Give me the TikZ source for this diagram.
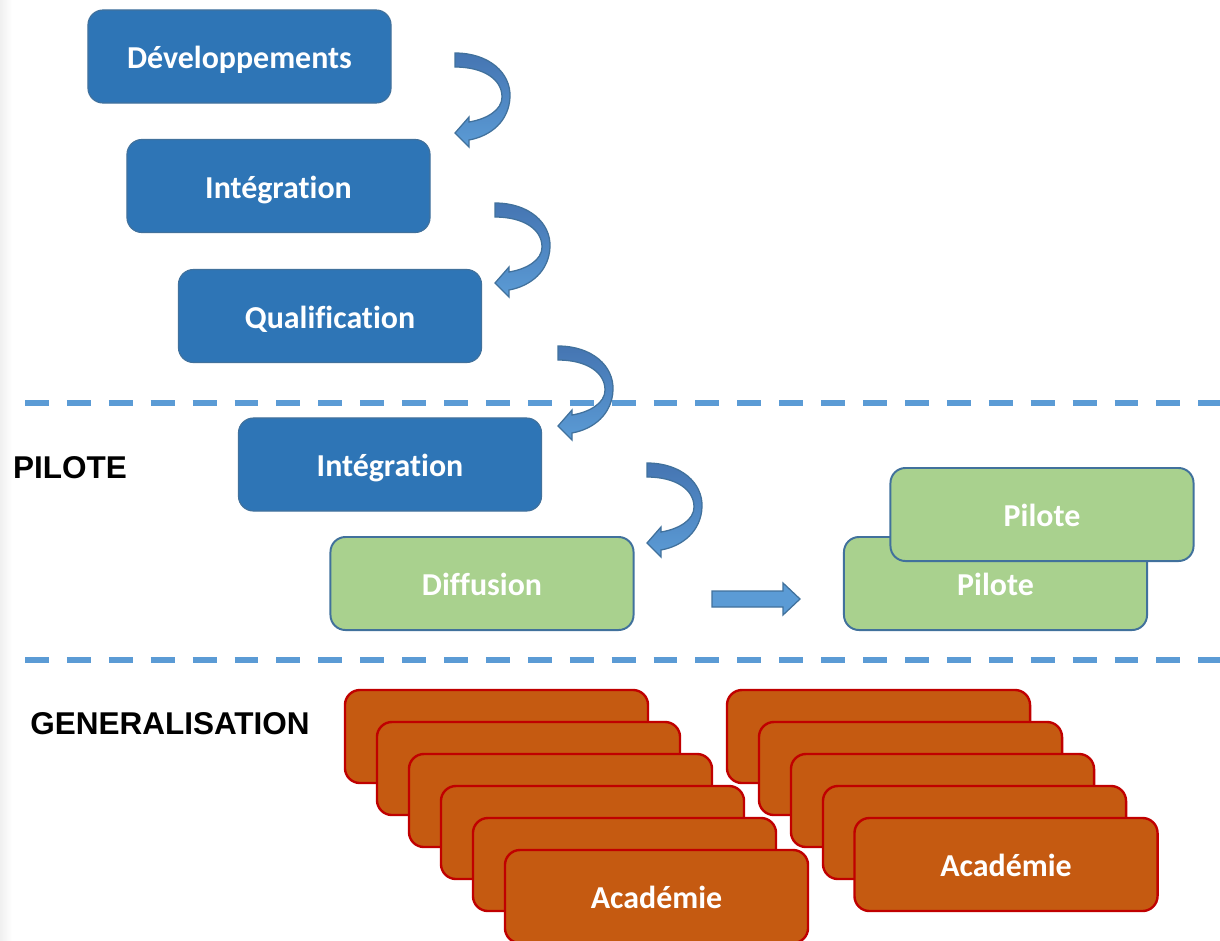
\documentclass[tikz,border=0pt]{standalone}
\usepackage{fontspec}
\setmainfont{Carlito}[Ligatures=NoCommon]
\newfontfamily\labelfont{Liberation Sans}
\usetikzlibrary{calc}

\definecolor{stepblue}{HTML}{2E75B6}
\definecolor{edgeblue}{HTML}{41719C}
\definecolor{lightblue}{HTML}{5B9BD5}
\definecolor{darkarrow}{HTML}{4575B2}
\definecolor{pilotgreen}{HTML}{A9D18E}
\definecolor{acadorange}{HTML}{C55A11}
\definecolor{acadred}{HTML}{C00000}

\tikzset{
  boxbase/.style={rounded corners=0.375cm, minimum width=7.575cm, minimum height=2.325cm,
    text=white, text height=17.4pt, text depth=0pt, font=\fontsize{22.7}{27}\selectfont\bfseries},
  bluebox/.style={boxbase, draw=edgeblue, line width=0.8pt, fill=stepblue},
  greenbox/.style={boxbase, draw=edgeblue, line width=1.4pt, fill=pilotgreen},
  acadbox/.style={boxbase, draw=acadred, line width=1.7pt, fill=acadorange},
  phaselabel/.style={font=\labelfont\bfseries\fontsize{22.4}{26}\selectfont},
  phaseline/.style={lightblue, line width=4.3pt, dash pattern=on 17pt off 12.8pt},
  arrowbody/.style={draw=edgeblue, line width=0.9pt, top color=darkarrow, bottom color=lightblue},
  uturn/.pic={
    \path[arrowbody] (0,0) .. controls (34,0) and (56,20) .. (55,44)
      .. controls (54,68) and (36,83) .. (14,87) -- (14,94) -- (0,80) -- (14,64) -- (14,69)
      .. controls (32,66) and (47,57) .. (47,44) .. controls (47,26) and (28,14) .. (0,14) -- cycle;
  }
}

\begin{document}
\begin{tikzpicture}[x=0.025cm,y=-0.025cm]
            \useasboundingbox (0,0) rectangle (1220,940);
            \fill[left color=gray!12,right color=white] (0,0) rectangle (12,940);

            % separations
            \draw[phaseline] (25,403) -- (1220,403);
            \draw[phaseline] (25,660) -- (1220,660);

            \node[phaselabel] (pilote) at (70,468) {PILOTE};
            \node[phaselabel] (generalisation) at (170,724) {GENERALISATION};

            % chaine
            \node[bluebox] (dev) at (239.5,56.5) {Développements};
            \node[bluebox] (integ) at (278.5,186) {Intégration};
            \node[bluebox] (qualif) at (330,316) {Qualification};
            \node[bluebox] (integp) at (390,464.5) {Intégration};
            \node[greenbox] (diffusion) at (482,583.5) {Diffusion};

            \pic at (455,53) {uturn};
            \pic at (495,203) {uturn};
            \pic at (558,346) {uturn};
            \pic at (647,463) {uturn};

            % pilotes
            \node[greenbox] (pilotB) at (995.5,583.5) {Pilote};
            \node[greenbox] (pilotA) at (1042,514.5) {Pilote};

            \coordinate (flow) at (712,591);
            \path[draw=edgeblue, line width=0.9pt, fill=lightblue] (flow) -- ++(71,0) -- ++(0,-8)
              -- ++(17,16) -- ++(-17,16) -- ++(0,-8) -- ++(-71,0) -- cycle;

            % academies
            \foreach \i in {1,...,5}
              \node[acadbox] (acadL\i) at ({496.5+32*(\i-1)},{736.5+32*(\i-1)}) {};
            \node[acadbox] (acadL6) at (656.5,896.5) {Académie};

            \foreach \i in {1,...,4}
              \node[acadbox] (acadR\i) at ({878.5+32*(\i-1)},{736.5+32*(\i-1)}) {};
            \node[acadbox] (acadR5) at (1006,864.5) {Académie};
          \end{tikzpicture}
\end{document}
